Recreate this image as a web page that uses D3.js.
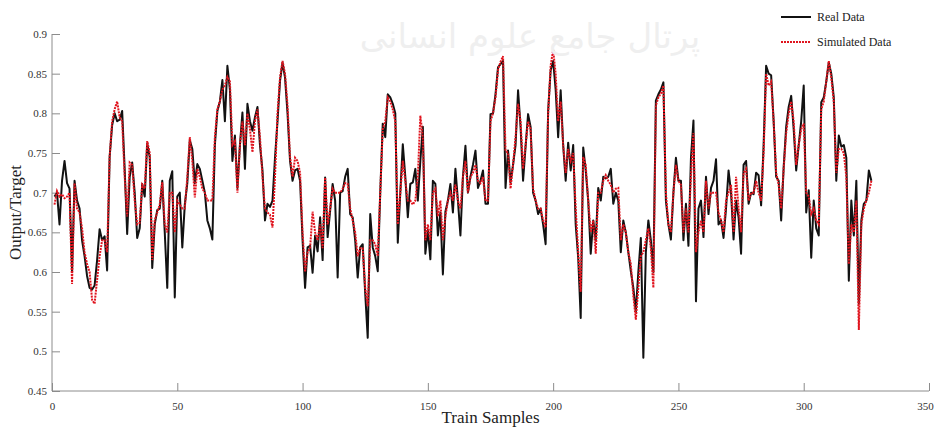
<!DOCTYPE html>
<html>
<head>
<meta charset="utf-8">
<script src="https://cdn.jsdelivr.net/npm/d3@7"></script>
<style>
  body { margin: 0; background: #fff; }
  .axis path, .axis line { stroke: #8c8c8c; }
  .axis text { font-family: "Liberation Serif", serif; font-size: 11px; fill: #333; }
</style>
</head>
<body>
<svg id="chart" width="935" height="430"></svg>
<script>
// x tick values, y tick values
var xTicks = [0, 50, 100, 150, 200, 250, 300, 350]
var yTicks = [0.45, 0.5, 0.55, 0.6, 0.65, 0.7, 0.75, 0.8, 0.85, 0.9]
var seriesNames = ['Real Data', 'Simulated Data']

// black line, samples 1..327
var realData = [
  0.695, 0.700, 0.660, 0.715, 0.740, 0.712, 0.705, 0.600, 0.715, 0.690,
  0.680, 0.640, 0.620, 0.595, 0.580, 0.578, 0.583, 0.615, 0.654, 0.640,
  0.645, 0.602, 0.745, 0.785, 0.800, 0.790, 0.792, 0.803, 0.730, 0.648,
  0.720, 0.738, 0.700, 0.643, 0.655, 0.711, 0.695, 0.762, 0.745, 0.605,
  0.660, 0.678, 0.680, 0.715, 0.650, 0.580, 0.715, 0.727, 0.568, 0.695,
  0.700, 0.631, 0.685, 0.712, 0.766, 0.755, 0.712, 0.736, 0.730, 0.715,
  0.700, 0.665, 0.655, 0.641, 0.760, 0.803, 0.815, 0.842, 0.790, 0.860,
  0.830, 0.740, 0.772, 0.706, 0.760, 0.801, 0.730, 0.812, 0.790, 0.778,
  0.795, 0.808, 0.760, 0.728, 0.665, 0.686, 0.682, 0.690, 0.744, 0.790,
  0.841, 0.864, 0.845, 0.800, 0.740, 0.715, 0.728, 0.730, 0.715, 0.640,
  0.580, 0.631, 0.633, 0.599, 0.646, 0.626, 0.669, 0.615, 0.719, 0.644,
  0.677, 0.711, 0.690, 0.593, 0.700, 0.702, 0.720, 0.730, 0.673, 0.669,
  0.640, 0.593, 0.631, 0.635, 0.573, 0.517, 0.673, 0.631, 0.620, 0.601,
  0.700, 0.787, 0.770, 0.824, 0.820, 0.812, 0.800, 0.637, 0.700, 0.761,
  0.720, 0.669, 0.711, 0.713, 0.730, 0.690, 0.740, 0.783, 0.623, 0.653,
  0.616, 0.715, 0.711, 0.646, 0.675, 0.597, 0.676, 0.690, 0.711, 0.675,
  0.730, 0.690, 0.646, 0.720, 0.759, 0.700, 0.720, 0.735, 0.753, 0.706,
  0.715, 0.728, 0.686, 0.686, 0.799, 0.800, 0.824, 0.858, 0.862, 0.866,
  0.706, 0.753, 0.713, 0.735, 0.760, 0.829, 0.783, 0.715, 0.758, 0.799,
  0.783, 0.700, 0.690, 0.673, 0.680, 0.660, 0.635, 0.803, 0.854, 0.866,
  0.830, 0.770, 0.829, 0.760, 0.715, 0.763, 0.728, 0.760, 0.660, 0.618,
  0.542, 0.757, 0.728, 0.690, 0.623, 0.665, 0.640, 0.706, 0.690, 0.720,
  0.718, 0.720, 0.730, 0.686, 0.700, 0.690, 0.625, 0.665, 0.650, 0.625,
  0.601, 0.580, 0.550, 0.600, 0.643, 0.492, 0.625, 0.665, 0.640, 0.600,
  0.816, 0.824, 0.830, 0.839, 0.690, 0.660, 0.641, 0.700, 0.744, 0.715,
  0.715, 0.640, 0.686, 0.633, 0.744, 0.791, 0.563, 0.680, 0.690, 0.644,
  0.720, 0.673, 0.706, 0.715, 0.742, 0.660, 0.665, 0.643, 0.680, 0.728,
  0.700, 0.641, 0.690, 0.669, 0.623, 0.735, 0.740, 0.686, 0.700, 0.698,
  0.725, 0.722, 0.684, 0.760, 0.860, 0.850, 0.848, 0.790, 0.720, 0.715,
  0.665, 0.732, 0.783, 0.808, 0.822, 0.780, 0.728, 0.760, 0.790, 0.835,
  0.675, 0.703, 0.618, 0.690, 0.655, 0.646, 0.814, 0.820, 0.840, 0.864,
  0.850, 0.820, 0.715, 0.772, 0.758, 0.760, 0.744, 0.589, 0.690, 0.646,
  0.715, 0.560, 0.665, 0.686, 0.690, 0.728, 0.715
]

// red dotted line, samples 1..327
var simData = [
  0.685, 0.702, 0.695, 0.698, 0.693, 0.695, 0.700, 0.585, 0.712, 0.680,
  0.675, 0.655, 0.625, 0.610, 0.600, 0.565, 0.560, 0.590, 0.620, 0.640,
  0.640, 0.625, 0.745, 0.790, 0.805, 0.815, 0.795, 0.790, 0.720, 0.670,
  0.738, 0.735, 0.690, 0.660, 0.662, 0.710, 0.705, 0.765, 0.750, 0.615,
  0.665, 0.675, 0.685, 0.713, 0.660, 0.650, 0.700, 0.700, 0.650, 0.690,
  0.685, 0.680, 0.680, 0.720, 0.770, 0.740, 0.694, 0.730, 0.720, 0.705,
  0.700, 0.690, 0.690, 0.690, 0.770, 0.805, 0.815, 0.830, 0.835, 0.846,
  0.840, 0.760, 0.765, 0.700, 0.760, 0.790, 0.760, 0.800, 0.780, 0.751,
  0.790, 0.805, 0.770, 0.720, 0.680, 0.675, 0.672, 0.656, 0.720, 0.800,
  0.845, 0.866, 0.850, 0.810, 0.745, 0.720, 0.744, 0.740, 0.725, 0.650,
  0.600, 0.625, 0.630, 0.676, 0.650, 0.640, 0.660, 0.630, 0.719, 0.660,
  0.680, 0.705, 0.700, 0.700, 0.700, 0.705, 0.712, 0.711, 0.680, 0.665,
  0.650, 0.620, 0.630, 0.630, 0.580, 0.557, 0.640, 0.640, 0.635, 0.620,
  0.700, 0.780, 0.790, 0.820, 0.815, 0.805, 0.790, 0.660, 0.700, 0.740,
  0.715, 0.690, 0.690, 0.685, 0.690, 0.720, 0.797, 0.770, 0.640, 0.660,
  0.640, 0.700, 0.705, 0.670, 0.690, 0.640, 0.670, 0.690, 0.700, 0.690,
  0.710, 0.690, 0.680, 0.720, 0.740, 0.700, 0.720, 0.725, 0.735, 0.715,
  0.712, 0.720, 0.690, 0.690, 0.790, 0.800, 0.820, 0.855, 0.865, 0.872,
  0.753, 0.750, 0.705, 0.735, 0.770, 0.812, 0.790, 0.730, 0.760, 0.790,
  0.780, 0.705, 0.690, 0.680, 0.680, 0.665, 0.656, 0.800, 0.860, 0.880,
  0.850, 0.790, 0.815, 0.760, 0.725, 0.755, 0.740, 0.750, 0.680, 0.625,
  0.575, 0.745, 0.735, 0.690, 0.650, 0.665, 0.623, 0.700, 0.700, 0.715,
  0.722, 0.715, 0.710, 0.700, 0.705, 0.706, 0.640, 0.660, 0.650, 0.625,
  0.610, 0.570, 0.540, 0.580, 0.620, 0.625, 0.640, 0.655, 0.630, 0.580,
  0.810, 0.820, 0.825, 0.835, 0.700, 0.660, 0.650, 0.700, 0.735, 0.715,
  0.710, 0.650, 0.680, 0.650, 0.720, 0.775, 0.625, 0.650, 0.665, 0.650,
  0.715, 0.680, 0.700, 0.700, 0.700, 0.675, 0.665, 0.650, 0.690, 0.700,
  0.710, 0.650, 0.720, 0.680, 0.650, 0.725, 0.730, 0.690, 0.700, 0.700,
  0.715, 0.700, 0.690, 0.750, 0.850, 0.835, 0.840, 0.790, 0.725, 0.710,
  0.680, 0.730, 0.775, 0.800, 0.815, 0.790, 0.735, 0.760, 0.780, 0.787,
  0.700, 0.695, 0.673, 0.680, 0.665, 0.660, 0.805, 0.815, 0.840, 0.866,
  0.845, 0.815, 0.725, 0.755, 0.755, 0.750, 0.720, 0.610, 0.660, 0.650,
  0.690, 0.527, 0.660, 0.680, 0.690, 0.700, 0.715
]

var margin = { top: 34, right: 6, bottom: 39, left: 52 }
var svg = d3.select('#chart')
var width = +svg.attr('width') - margin.left - margin.right
var height = +svg.attr('height') - margin.top - margin.bottom
var g = svg.append('g')
    .attr('transform', 'translate(' + margin.left + ',' + margin.top + ')')

var x = d3.scaleLinear().domain([0, 350]).range([0, width])
var y = d3.scaleLinear().domain([0.45, 0.9]).range([height, 0])

// faint watermark of the source site
svg.append('text')
    .attr('x', 530).attr('y', 48)
    .attr('text-anchor', 'middle')
    .attr('font-family', 'DejaVu Sans, sans-serif')
    .attr('font-size', 34)
    .attr('fill', '#efefef')
    .text('پرتال جامع علوم انسانی')

// axes, ticks pointing inwards like matlab
g.append('g')
    .attr('class', 'axis axis--x')
    .attr('transform', 'translate(0,' + height + ')')
    .call(d3.axisBottom(x).tickValues(xTicks).tickSize(-8).tickPadding(11).tickFormat(d3.format('d')))
g.append('g')
    .attr('class', 'axis axis--y')
    .call(d3.axisLeft(y).tickValues(yTicks).tickSize(-8).tickPadding(5).tickFormat(d => +d.toFixed(2) + ''))
g.selectAll('.axis path').attr('d', null)
g.select('.axis--x').append('line').attr('x1', 0).attr('x2', width).attr('stroke', '#8c8c8c')
g.select('.axis--y').append('line').attr('y1', 0).attr('y2', height).attr('stroke', '#8c8c8c')
// last x label sits on the page edge, pull it in a bit
g.selectAll('.axis--x .tick text').filter(d => d == 350).attr('dx', -4)

var line = d3.line()
    .x((d, i) => x(i + 1))
    .y(d => y(d))

g.append('path')
    .datum(realData)
    .attr('fill', 'none')
    .attr('stroke', '#111')
    .attr('stroke-width', 2)
    .attr('stroke-linejoin', 'round')
    .attr('d', line)

g.append('path')
    .datum(simData)
    .attr('fill', 'none')
    .attr('stroke', '#e0141e')
    .attr('stroke-width', 2)
    .attr('stroke-dasharray', '2,1')
    .attr('d', line)

// axis titles
svg.append('text')
    .attr('x', margin.left + x(175)).attr('y', 423)
    .attr('text-anchor', 'middle')
    .attr('font-family', 'Liberation Serif, serif')
    .attr('font-size', 17)
    .attr('fill', '#222')
    .text('Train Samples')
svg.append('text')
    .attr('transform', 'translate(21,' + (margin.top + height / 2) + ') rotate(-90)')
    .attr('text-anchor', 'middle')
    .attr('font-family', 'Liberation Serif, serif')
    .attr('font-size', 17)
    .attr('fill', '#222')
    .text('Output/Target')

// legend
var legend = svg.append('g').attr('transform', 'translate(781,17)')
var styles = [{ stroke: '#111', dash: null }, { stroke: '#e0141e', dash: '2,1' }]
seriesNames.forEach((name, i) => {
  var row = legend.append('g').attr('transform', 'translate(0,' + (i * 25) + ')')
  row.append('line')
      .attr('x1', 0).attr('x2', 30)
      .attr('stroke', styles[i].stroke)
      .attr('stroke-width', 2)
      .attr('stroke-dasharray', styles[i].dash)
  row.append('text')
      .attr('x', 36).attr('y', 4)
      .attr('font-family', 'Liberation Serif, serif')
      .attr('font-size', 12)
      .attr('fill', '#222')
      .text(name)
})
</script>
</body>
</html>
